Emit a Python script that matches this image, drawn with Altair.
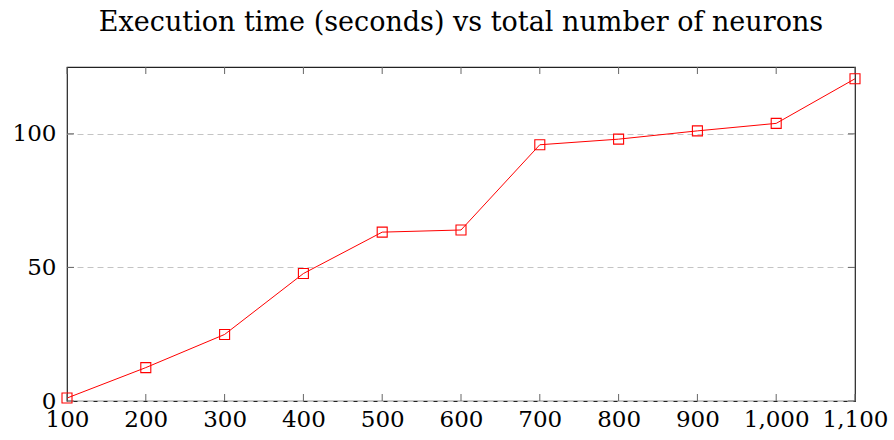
import altair as alt
import pandas as pd

neurons = [100, 200, 300, 400, 500, 600, 700, 800, 900, 1000, 1100]
exec_time = [1.1, 12.5, 24.9, 47.7, 63.2, 64.0, 95.9, 98.0, 101.1, 103.9, 120.6]
x_ticks = [100, 200, 300, 400, 500, 600, 700, 800, 900, 1000, 1100]
y_ticks = [0, 50, 100]

W, H = 788, 334
FONT = "DejaVu Serif"

df = pd.DataFrame({"n": neurons, "t": exec_time})
xt = pd.DataFrame({"v": x_ticks})
yt = pd.DataFrame({"v": y_ticks})

xscale = alt.Scale(domain=[100, 1100], nice=False, zero=False)
yscale = alt.Scale(domain=[0, 125], nice=False)

base_x = alt.X("n:Q", scale=xscale, title=None,
               axis=alt.Axis(values=x_ticks, format=",d", ticks=False, domain=False,
                             grid=False, labelFont=FONT, labelFontSize=23,
                             labelColor="black", labelPadding=7, labelFlush=False))
base_y = alt.Y("t:Q", scale=yscale, title=None,
               axis=alt.Axis(values=y_ticks, ticks=False, domain=False,
                             grid=True, gridDash=[6, 4], gridColor="#c4c4c4",
                             gridWidth=1, labelFont=FONT, labelFontSize=23,
                             labelColor="black", labelPadding=11))

line = alt.Chart(df).mark_line(color="red", strokeWidth=1).encode(x=base_x, y=base_y)
pts = alt.Chart(df).mark_point(shape="square", color="red", filled=False,
                               size=100, strokeWidth=1.1, opacity=1).encode(
    x=alt.X("n:Q", scale=xscale), y=alt.Y("t:Q", scale=yscale))

tick_color = "#666666"
xt_bottom = alt.Chart(xt).mark_rule(color=tick_color, strokeWidth=1).encode(
    x=alt.X("v:Q", scale=xscale), y=alt.value(H - 7), y2=alt.value(H))
xt_top = alt.Chart(xt).mark_rule(color=tick_color, strokeWidth=1).encode(
    x=alt.X("v:Q", scale=xscale), y=alt.value(0), y2=alt.value(7))
yt_left = alt.Chart(yt).mark_rule(color=tick_color, strokeWidth=1).encode(
    y=alt.Y("v:Q", scale=yscale), x=alt.value(0), x2=alt.value(7))
yt_right = alt.Chart(yt).mark_rule(color=tick_color, strokeWidth=1).encode(
    y=alt.Y("v:Q", scale=yscale), x=alt.value(W - 7), x2=alt.value(W))

chart = alt.layer(line, xt_bottom, xt_top, yt_left, yt_right, pts).properties(
    width=W, height=H,
    background="white",
    title=alt.TitleParams("Execution time (seconds) vs total number of neurons",
                          font=FONT, fontSize=27, fontWeight="normal",
                          color="black", offset=30, anchor="middle"),
    autosize=alt.AutoSizeParams(type="none"),
    padding={"left": 67, "top": 67, "right": 39, "bottom": 39},
).configure_view(stroke="#222222", strokeWidth=1.2)

chart.save("out.html", embed_options={"renderer": "svg", "actions": False})
